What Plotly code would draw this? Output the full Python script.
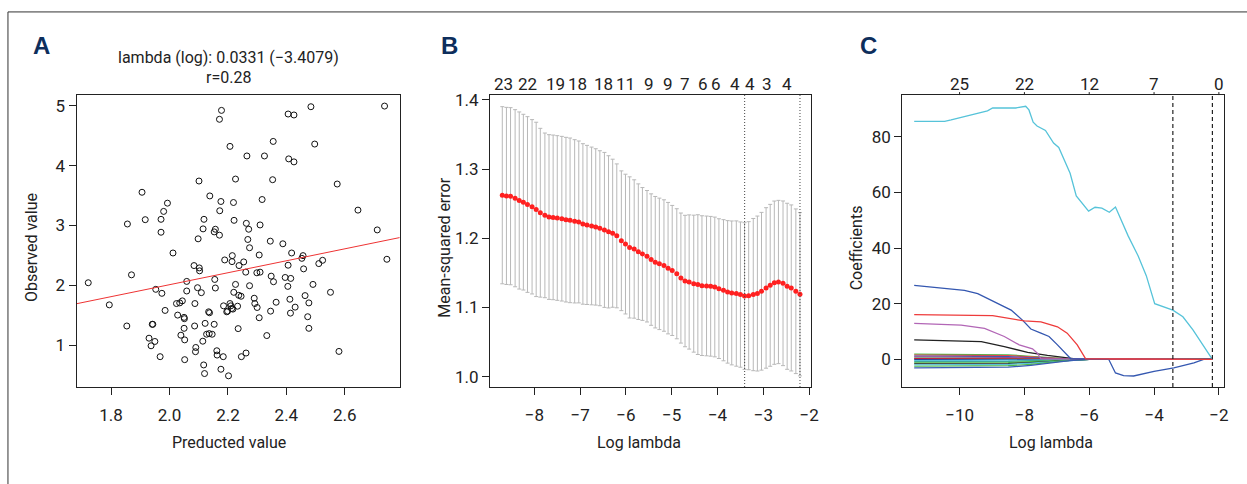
import plotly.graph_objects as go

W, H = 1247, 484
FONT = "Roboto, Liberation Sans, sans-serif"
TXT = "#222222"
FS = 17
FS_TITLE = 16

# ---------------- Panel A: predicted vs observed ----------------
pred = [2.178, 2.171, 2.406, 2.426, 2.484, 2.736, 2.355, 2.497, 2.207, 2.265,
        2.325, 2.408, 2.426, 2.101, 2.226, 2.353, 2.574, 1.906, 2.138, 2.317,
        1.993, 2.176, 2.219, 1.980, 2.172, 2.645, 1.856, 1.917, 1.971, 2.118,
        2.221, 2.263, 2.310, 1.971, 2.115, 2.157, 2.153, 2.171, 2.271, 2.098,
        2.268, 2.274, 2.345, 2.388, 2.711, 2.012, 2.215, 2.307, 2.418, 2.457,
        2.453, 2.189, 2.214, 2.254, 2.238, 2.524, 2.511, 2.744, 2.084, 2.102,
        2.103, 2.261, 2.299, 2.310, 2.406, 2.459, 1.870, 1.722, 2.059, 2.155,
        2.348, 2.356, 2.396, 2.415, 1.953, 1.974, 2.096, 2.109, 2.059, 2.157,
        2.226, 2.274, 2.405, 2.491, 2.220, 2.237, 2.245, 2.464, 2.551, 1.794,
        2.024, 2.035, 2.044, 2.087, 2.185, 2.207, 2.210, 2.213, 2.233, 2.290,
        2.292, 2.300, 2.365, 2.412, 2.430, 2.477, 1.985, 2.028, 2.050, 2.051,
        2.134, 2.137, 2.196, 2.199, 2.217, 2.307, 2.346, 2.414, 2.473, 1.854,
        1.941, 1.943, 2.050, 2.086, 2.122, 2.153, 2.235, 2.477, 2.039, 2.127,
        2.136, 2.146, 2.333, 1.930, 1.950, 1.937, 2.052, 2.114, 2.090, 2.089,
        2.162, 2.163, 2.184, 2.262, 2.246, 2.580, 1.968, 2.052, 2.117, 2.120,
        2.176, 2.202]
obs = [4.924, 4.775, 4.863, 4.847, 4.985, 4.996, 4.405, 4.361, 4.322, 4.162,
       4.162, 4.113, 4.063, 3.743, 3.776, 3.765, 3.693, 3.555, 3.494, 3.434,
       3.373, 3.401, 3.384, 3.235, 3.246, 3.257, 3.025, 3.097, 3.103, 3.103,
       3.086, 3.036, 3.009, 2.887, 2.943, 2.937, 2.893, 2.838, 2.937, 2.777,
       2.766, 2.628, 2.738, 2.694, 2.926, 2.540, 2.496, 2.507, 2.540, 2.496,
       2.451, 2.424, 2.396, 2.391, 2.330, 2.418, 2.363, 2.435, 2.330, 2.291,
       2.242, 2.220, 2.209, 2.220, 2.336, 2.275, 2.175, 2.043, 2.065, 2.098,
       2.153, 2.060, 2.131, 2.115, 1.933, 1.866, 1.960, 1.877, 1.905, 1.955,
       2.015, 1.993, 1.982, 2.015, 1.883, 1.833, 1.817, 1.828, 1.883, 1.673,
       1.695, 1.706, 1.740, 1.695, 1.657, 1.695, 1.657, 1.613, 1.651, 1.784,
       1.695, 1.629, 1.717, 1.767, 1.635, 1.706, 1.580, 1.502, 1.464, 1.442,
       1.557, 1.541, 1.557, 1.568, 1.602, 1.458, 1.568, 1.535, 1.475, 1.320,
       1.348, 1.348, 1.281, 1.320, 1.364, 1.348, 1.276, 1.281, 1.166, 1.182,
       1.193, 1.182, 1.160, 1.116, 1.061, 0.989, 1.088, 1.066, 0.961, 0.890,
       0.906, 0.834, 0.807, 0.868, 0.807, 0.895, 0.807, 0.757, 0.669, 0.525,
       0.597, 0.487]
fit_intercept = 0.01
fit_slope = 1.0
a_xticks = [1.8, 2.0, 2.2, 2.4, 2.6]
a_yticks = [1, 2, 3, 4, 5]
a_xrange = [1.682, 2.788]
a_yrange = [0.30, 5.18]

# ---------------- Panel B: cross-validation curve ----------------
cv_loglam = [-8.70, -8.61, -8.52, -8.42, -8.33, -8.24, -8.15, -8.05, -7.96, -7.87,
             -7.77, -7.68, -7.59, -7.50, -7.40, -7.31, -7.22, -7.12, -7.03, -6.94,
             -6.85, -6.75, -6.66, -6.57, -6.47, -6.38, -6.29, -6.20, -6.10, -6.01,
             -5.92, -5.82, -5.73, -5.64, -5.54, -5.45, -5.36, -5.27, -5.17, -5.08,
             -4.99, -4.89, -4.80, -4.71, -4.62, -4.52, -4.43, -4.34, -4.24, -4.15,
             -4.06, -3.97, -3.87, -3.78, -3.69, -3.59, -3.50, -3.41, -3.32, -3.22,
             -3.13, -3.04, -2.94, -2.85, -2.76, -2.67, -2.57, -2.48, -2.39, -2.29,
             -2.20]
cv_mse = [1.2622, 1.2612, 1.2608, 1.2579, 1.2546, 1.2522, 1.2488, 1.2455, 1.2417, 1.2369,
          1.2331, 1.2307, 1.2302, 1.2293, 1.2283, 1.2269, 1.2259, 1.2245, 1.2236, 1.2207,
          1.2193, 1.2178, 1.2164, 1.2145, 1.2121, 1.2093, 1.2073, 1.2035, 1.1964, 1.1916,
          1.1868, 1.1845, 1.1806, 1.1773, 1.1740, 1.1692, 1.1654, 1.1630, 1.1606, 1.1568,
          1.1535, 1.1487, 1.1425, 1.1382, 1.1368, 1.1344, 1.1330, 1.1315, 1.1311, 1.1306,
          1.1296, 1.1272, 1.1249, 1.1225, 1.1210, 1.1201, 1.1186, 1.1165, 1.1170, 1.1186,
          1.1201, 1.1234, 1.1282, 1.1320, 1.1358, 1.1368, 1.1349, 1.1306, 1.1282, 1.1234,
          1.1191]
cv_se = [0.128, 0.128, 0.128, 0.128, 0.128, 0.127, 0.127, 0.126, 0.126, 0.122,
         0.119, 0.119, 0.119, 0.119, 0.119, 0.119, 0.119, 0.118, 0.117, 0.116,
         0.115, 0.114, 0.113, 0.112, 0.112, 0.110, 0.107, 0.104, 0.101, 0.101,
         0.102, 0.100, 0.098, 0.096, 0.095, 0.095, 0.095, 0.095, 0.095, 0.095,
         0.094, 0.094, 0.094, 0.095, 0.097, 0.099, 0.101, 0.101, 0.101, 0.101,
         0.101, 0.101, 0.102, 0.103, 0.104, 0.105, 0.105, 0.106, 0.107, 0.110,
         0.112, 0.114, 0.116, 0.117, 0.118, 0.118, 0.119, 0.120, 0.120, 0.119,
         0.118]
lambda_min_log = -3.4079
lambda_1se_log = -2.20
b_top_pos = [-8.67, -8.14, -7.54, -7.05, -6.49, -6.00, -5.49, -5.08, -4.70, -4.32,
             -4.03, -3.61, -3.30, -2.92, -2.48]
b_top_lab = ["23", "22", "19", "18", "18", "11", "9", "9", "7", "6",
             "6", "4", "4", "3", "4"]
b_xticks = [-8, -7, -6, -5, -4, -3, -2]
b_yticks = [1.0, 1.1, 1.2, 1.3, 1.4]
b_xrange = [-8.97, -1.95]
b_yrange = [0.985, 1.407]

# ---------------- Panel C: coefficient paths ----------------
cyan_x = [-11.40, -10.46, -10.26, -9.85, -9.44, -9.14, -8.98, -8.27, -7.96, -7.86,
          -7.73, -7.61, -7.35, -7.10, -6.94, -6.59, -6.40, -6.02, -5.82, -5.61,
          -5.38, -5.19, -4.80, -4.49, -4.24, -3.98, -3.42, -3.11, -2.80, -2.20]
cyan_y = [85.6, 85.6, 86.1, 87.3, 88.3, 89.4, 90.4, 90.4, 91.0, 89.7,
          85.3, 83.9, 82.3, 77.8, 76.2, 66.9, 58.8, 53.3, 54.7, 54.4,
          52.9, 54.8, 44.4, 37.2, 30.1, 20.0, 17.7, 15.3, 10.6, 0.0]
blue_x = [-11.40, -9.85, -9.44, -8.98, -8.41, -8.06, -7.80, -7.49, -7.24, -6.98,
          -6.78, -6.57, -5.40, -5.19, -4.94, -4.63, -4.00, -3.39, -2.77, -2.47, -2.20]
blue_y = [26.6, 24.8, 23.6, 20.9, 17.7, 14.1, 10.9, 9.4, 8.2, 5.2,
          2.8, 0.2, 0.0, -4.9, -5.9, -6.0, -4.3, -3.1, -1.3, 0.0, 0.0]
red_x = [-11.40, -8.98, -8.00, -7.70, -7.49, -6.98, -6.68, -6.37, -6.11, -2.20]
red_y = [16.1, 15.7, 13.8, 13.5, 13.5, 11.7, 9.4, 5.2, 0.2, 0.0]
purple_x = [-11.40, -9.95, -9.23, -8.62, -8.16, -7.90, -7.75, -7.60, -7.49, -2.20]
purple_y = [12.9, 12.3, 11.1, 8.2, 5.2, 4.3, 3.8, 2.2, 0.2, 0.0]
black_x = [-11.40, -9.33, -8.62, -7.90, -7.29, -6.68, -6.30, -2.20]
black_y = [7.0, 6.4, 4.6, 2.5, 1.4, 0.5, 0.0, 0.0]
small_x = [-11.40, -9.50, -8.50, -7.80, -7.20, -6.60, -6.00, -2.20]
small_paths = [
    ("#4DB848", [1.9, 1.85, 1.6, 1.1, 0.5, 0.15, 0.0, 0.0]),
    ("#E84545", [1.55, 1.5, 1.3, 0.9, 0.45, 0.1, 0.0, 0.0]),
    ("#3A5BB5", [1.2, 1.15, 0.95, 0.6, 0.25, 0.05, 0.0, 0.0]),
    ("#A0409A", [0.85, 0.8, 0.65, 0.4, 0.15, 0.0, 0.0, 0.0]),
    ("#4DB848", [0.45, 0.42, 0.35, 0.2, 0.08, 0.0, 0.0, 0.0]),
    ("#C0203A", [0.25, 0.24, 0.2, 0.12, 0.05, 0.0, 0.0, 0.0]),
    ("#2A3F9A", [-0.1, -0.1, -0.08, -0.05, -0.02, 0.0, 0.0, 0.0]),
    ("#56C3D9", [-0.5, -0.5, -0.45, -0.3, -0.15, -0.05, 0.0, 0.0]),
    ("#3FA89A", [-0.85, -0.84, -0.75, -0.5, -0.25, -0.08, 0.0, 0.0]),
    ("#4DB848", [-1.3, -1.28, -1.15, -0.8, -0.45, -0.15, 0.0, 0.0]),
    ("#222222", [-1.6, -1.6, -1.5, -1.2, -0.8, -0.3, 0.0, 0.0]),
    ("#56C3D9", [-2.0, -1.98, -1.8, -1.4, -0.9, -0.35, 0.0, 0.0]),
    ("#4DB848", [-2.5, -2.5, -2.3, -1.8, -1.1, -0.4, 0.0, 0.0]),
    ("#3A5BB5", [-3.1, -3.05, -2.8, -2.2, -1.4, -0.5, 0.0, 0.0]),
]
c_top_pos = [-10, -8, -6, -4, -2]
c_top_lab = ["25", "22", "12", "7", "0"]
c_xticks = [-10, -8, -6, -4, -2]
c_yticks = [0, 20, 40, 60, 80]
c_xrange = [-11.77, -1.83]
c_yrange = [-9.96, 95.05]
c_lambda_min = -3.42
c_lambda_1se = -2.20


def px(p):
    return p / W


def py(p):
    return 1 - p / H


YDOM = [py(386), py(91)]
A_DOM = [px(77), px(402)]
B_DOM = [px(492.7), px(816)]
C_DOM = [px(907.3), px(1231.3)]


def axis(domain, rng, tickvals, ticktext, anchor, standoff=None):
    d = dict(domain=domain, range=rng, tickvals=tickvals, ticktext=ticktext,
             showline=True, linecolor=TXT, linewidth=1, mirror=True,
             ticks="outside", ticklen=7, tickwidth=1, tickcolor=TXT,
             showgrid=False, zeroline=False, anchor=anchor,
             tickfont=dict(family=FONT, size=FS, color=TXT))
    if standoff is not None:
        d["ticklabelstandoff"] = standoff
    return d


def fmt1(v):
    return f"{v:.1f}"


def fmtint(v):
    return f"{v:d}".replace("-", "\u2212")


fig = go.Figure()

# Panel A
fig.add_trace(go.Scatter(x=pred, y=obs, mode="markers", xaxis="x", yaxis="y",
                         marker=dict(symbol="circle-open", size=6, color="#111111",
                                     line=dict(width=1, color="#111111")),
                         showlegend=False, hoverinfo="skip"))
fig.add_trace(go.Scatter(x=a_xrange,
                         y=[fit_intercept + fit_slope * v for v in a_xrange],
                         mode="lines", xaxis="x", yaxis="y",
                         line=dict(color="#EE3333", width=1),
                         showlegend=False, hoverinfo="skip"))

# Panel B
fig.add_trace(go.Scatter(x=cv_loglam, y=cv_mse, mode="markers", xaxis="x2", yaxis="y2",
                         marker=dict(color="#FF2020", size=5),
                         error_y=dict(type="data", array=cv_se, visible=True,
                                      color="#B8B8B8", thickness=1, width=2),
                         showlegend=False, hoverinfo="skip"))

# Panel C
for col, vals in small_paths:
    fig.add_trace(go.Scatter(x=small_x, y=vals, mode="lines", xaxis="x3", yaxis="y3",
                             line=dict(color=col, width=1.2),
                             showlegend=False, hoverinfo="skip"))
for xs, ys, col in [(black_x, black_y, "#222222"), (purple_x, purple_y, "#B266B6"),
                    (blue_x, blue_y, "#3457B0"), (cyan_x, cyan_y, "#56C3D9"),
                    (red_x, red_y, "#EE3B3B")]:
    fig.add_trace(go.Scatter(x=xs, y=ys, mode="lines", xaxis="x3", yaxis="y3",
                             line=dict(color=col, width=1.3),
                             showlegend=False, hoverinfo="skip"))

shapes = []
# outer frame (cropped)
shapes.append(dict(type="rect", xref="paper", yref="paper",
                   x0=px(8), x1=1.02, y0=-0.02, y1=py(7),
                   line=dict(color="#333333", width=1)))
for v in [lambda_min_log, lambda_1se_log]:
    shapes.append(dict(type="line", xref="x2", yref="y2 domain", x0=v, x1=v, y0=0, y1=1,
                       line=dict(color="#444444", width=1, dash="1px,2px")))
for v in [c_lambda_min, c_lambda_1se]:
    shapes.append(dict(type="line", xref="x3", yref="y3 domain", x0=v, x1=v, y0=0, y1=1,
                       line=dict(color="#222222", width=1.2, dash="4px,3px")))
for v in c_top_pos:
    shapes.append(dict(type="line", xref="x3", yref="paper", x0=v, x1=v,
                       y0=py(91), y1=py(88), line=dict(color=TXT, width=1)))

ann = []


def text(x, y, s, size=FS, angle=0, family=FONT, color=TXT, bold=False, xref="paper"):
    if bold:
        s = f"<b>{s}</b>"
    ann.append(dict(x=x, y=y, xref=xref, yref="paper", text=s, showarrow=False,
                    textangle=angle, xanchor="center", yanchor="middle",
                    font=dict(family=family, size=size, color=color)))


LETTER_FONT = "Liberation Sans, Arial, sans-serif"
text(px(41.7), py(40.7), "A", size=24, family=LETTER_FONT, color="#0D2E5C", bold=True)
text(px(452.3), py(40.7), "B", size=24, family=LETTER_FONT, color="#0D2E5C", bold=True)
text(px(873.3), py(40.7), "C", size=24, family=LETTER_FONT, color="#0D2E5C", bold=True)

text(px(230), py(52.7), "lambda (log): 0.0331 (\u22123.4079)", size=FS_TITLE)
text(px(230), py(73.3), "r=0.28", size=FS_TITLE)
text(px(31.7), py(245), "Observed value", angle=-90, size=FS_TITLE)
text(px(230), py(441.7), "Preducted value", size=FS_TITLE)
text(px(446.7), py(245), "Mean-squared error", angle=-90, size=FS_TITLE)
text(px(642.7), py(441.7), "Log lambda", size=FS_TITLE)
text(px(861.7), py(245), "Coefficients", angle=-90, size=FS_TITLE)
text(px(1056.7), py(441.7), "Log lambda", size=FS_TITLE)

for pos, lab in zip(b_top_pos, b_top_lab):
    text(pos, py(80), lab, xref="x2")
for pos, lab in zip(c_top_pos, c_top_lab):
    text(pos, py(80), lab, xref="x3")

fig.update_layout(
    width=W, height=H, margin=dict(l=0, r=0, t=0, b=0),
    paper_bgcolor="white", plot_bgcolor="white", showlegend=False,
    xaxis=axis(A_DOM, a_xrange, a_xticks, [fmt1(v) for v in a_xticks], "y", 6),
    yaxis=axis(YDOM, a_yrange, a_yticks, [str(v) for v in a_yticks], "x"),
    xaxis2=axis(B_DOM, b_xrange, b_xticks, [fmtint(v) for v in b_xticks], "y2", 6),
    yaxis2=axis(YDOM, b_yrange, b_yticks, [fmt1(v) for v in b_yticks], "x2"),
    xaxis3=axis(C_DOM, c_xrange, c_xticks, [fmtint(v) for v in c_xticks], "y3", 6),
    yaxis3=axis(YDOM, c_yrange, c_yticks, [str(v) for v in c_yticks], "x3"),
    shapes=shapes, annotations=ann,
)

fig.write_html("out.html",
               config={"displayModeBar": False},
               post_script="document.body.style.margin='0';"
                           "document.body.style.overflow='hidden';")
